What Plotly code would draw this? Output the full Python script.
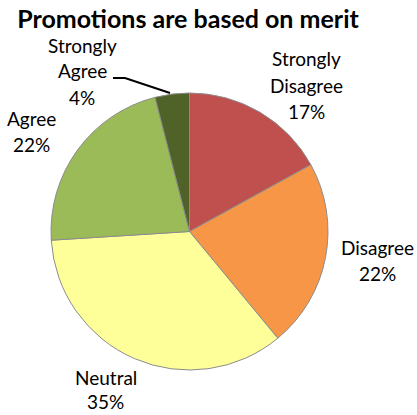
import plotly.graph_objects as go

# Survey responses, clockwise from 12 o'clock
categories = ["Strongly Disagree", "Disagree", "Neutral", "Agree", "Strongly Agree"]
shares = [17, 22, 35, 22, 4]
colors = ["#C0504D", "#F79646", "#FFFF99", "#9BBB59", "#4F6228"]

# Outside label text lines and placement (pixel centres of first line)
label_lines = {
    "Strongly Disagree": ["Strongly", "Disagree"],
    "Disagree": ["Disagree"],
    "Neutral": ["Neutral"],
    "Agree": ["Agree"],
    "Strongly Agree": ["Strongly", "Agree"],
}
label_pos = {
    "Strongly Disagree": (306, 59),
    "Disagree": (377, 247),
    "Neutral": (106, 377),
    "Agree": (32, 118),
    "Strongly Agree": (82, 45),
}

W, H = 417, 415
LINE = 26
FONT = "Lato, 'Open Sans', sans-serif"

fig = go.Figure(
    go.Pie(
        labels=categories,
        values=shares,
        sort=False,
        direction="clockwise",
        rotation=0,
        marker=dict(colors=colors, line=dict(color="#8C8C8C", width=1)),
        textinfo="none",
        hoverinfo="label+percent",
        showlegend=False,
        domain=dict(x=[51 / W, 328 / W], y=[1 - 370 / H, 1 - 93 / H]),
    )
)

annotations = []
for cat, val in zip(categories, shares):
    cx, cy = label_pos[cat]
    lines = label_lines[cat] + [f"{val}%"]
    for i, txt in enumerate(lines):
        step = 24 if cat == "Neutral" else LINE
        annotations.append(
            dict(
                x=cx / W,
                y=1 - (cy + i * step) / H,
                xref="paper",
                yref="paper",
                text=txt,
                showarrow=False,
                xanchor="center",
                yanchor="middle",
                font=dict(family=FONT, size=19, color="#000000"),
            )
        )

fig.update_layout(
    width=W,
    height=H,
    margin=dict(l=0, r=0, t=0, b=0),
    paper_bgcolor="white",
    plot_bgcolor="white",
    title=dict(
        text="<b>Promotions are based on merit</b>",
        x=188 / W,
        xanchor="center",
        y=1 - 19 / H,
        yanchor="middle",
        font=dict(family=FONT, size=25, color="#000000"),
    ),
    annotations=annotations,
    shapes=[
        # leader line from the "Strongly Agree" label to its slice
        dict(
            type="path",
            xref="paper",
            yref="paper",
            path=f"M {113 / W},{1 - 78 / H} L {125 / W},{1 - 78 / H} L {170 / W},{1 - 93 / H}",
            line=dict(color="#000000", width=2),
        )
    ],
)

fig.write_html("out.html")
